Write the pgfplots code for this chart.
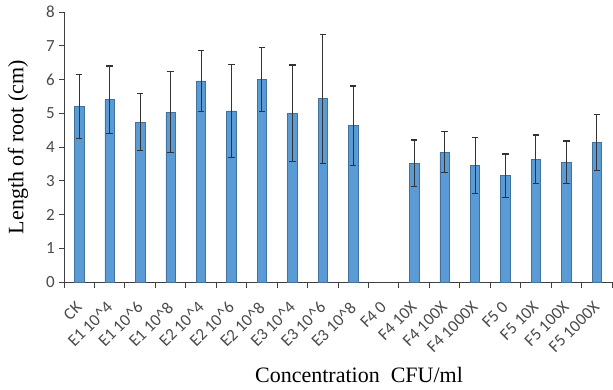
\documentclass[border=0pt]{standalone}
\usepackage{fontspec}
\usepackage{pgfplots}
\pgfplotsset{compat=1.18}
\setmainfont{Liberation Serif}
\newfontfamily\carl{Carlito}
\definecolor{barfill}{HTML}{5B9BD5}
\definecolor{bardraw}{HTML}{41719C}
\definecolor{tickgray}{HTML}{4A4A4A}
\definecolor{axgray}{HTML}{404040}
\definecolor{errgray}{HTML}{333333}
\begin{document}
\begin{tikzpicture}
\begin{axis}[
  scale only axis,
  width=548pt, height=270pt,
  xmin=-0.5, xmax=17.5,
  ymin=0, ymax=8,
  ytick={0,1,...,8},
  xtick={0,1,...,17},
  xticklabels={CK,E1 10\^{}4,E1 10\^{}6,E1 10\^{}8,E2 10\^{}4,E2 10\^{}6,E2 10\^{}8,E3 10\^{}4,E3 10\^{}6,E3 10\^{}8,F4 0,F4 10X,F4 100X,F4 1000X,F5 0,F5 10X,F5 100X,F5 1000X},
  minor xtick={-0.5,0.5,...,17.5},
  axis x line=bottom, axis y line=left,
  axis line style={-, draw=axgray, line width=0.8pt},
  tick align=outside,
  major x tick style={draw=none},
  minor x tick style={draw=axgray, line width=0.8pt},
  minor tick length=6pt,
  major tick length=5pt,
  y tick style={draw=axgray, line width=0.8pt},
  /pgf/number format/assume math mode=true,
  ticklabel style={font=\carl\fontsize{17}{19}\selectfont, text=tickgray},
  xticklabel style={rotate=45, anchor=north east, inner sep=0.5pt, xshift=-12pt, yshift=-6pt},
  yticklabel style={inner sep=1pt, xshift=-3pt},
  ylabel={Length of root (cm)},
  ylabel style={font=\fontsize{22}{24}\selectfont, at={(axis description cs:-0.084,0.5)}, anchor=center},
  xlabel={Concentration\ \ CFU/ml},
  xlabel style={font=\fontsize{22}{24}\selectfont, at={(axis description cs:0.5,0)}, anchor=center, yshift=-93pt, xshift=21pt},
  clip=false,
]
\coordinate (o) at (rel axis cs:0,0);
\addplot[ybar, bar width=9.5pt, fill=barfill, draw=bardraw, line width=0.6pt,
  error bars/.cd, y dir=both, y explicit,
  error mark=|,
  error bar style={draw=errgray, line width=1pt},
  error mark options={draw=errgray, line width=1.3pt, mark size=3.2pt}]
  table[x=x, y=y, y error=e] {
x y e
0 5.20 0.95
1 5.40 1.00
2 4.74 0.84
3 5.03 1.20
4 5.96 0.90
5 5.07 1.38
6 6.00 0.95
7 5.00 1.43
8 5.43 1.91
9 4.63 1.18
11 3.52 0.69
12 3.85 0.60
13 3.45 0.83
14 3.15 0.64
15 3.64 0.72
16 3.55 0.63
17 4.14 0.83
};
\end{axis}
\pgfresetboundingbox
\path ([shift={(-64pt,-107pt)}]o) rectangle ([shift={(549pt,282pt)}]o);
\end{tikzpicture}
\end{document}
